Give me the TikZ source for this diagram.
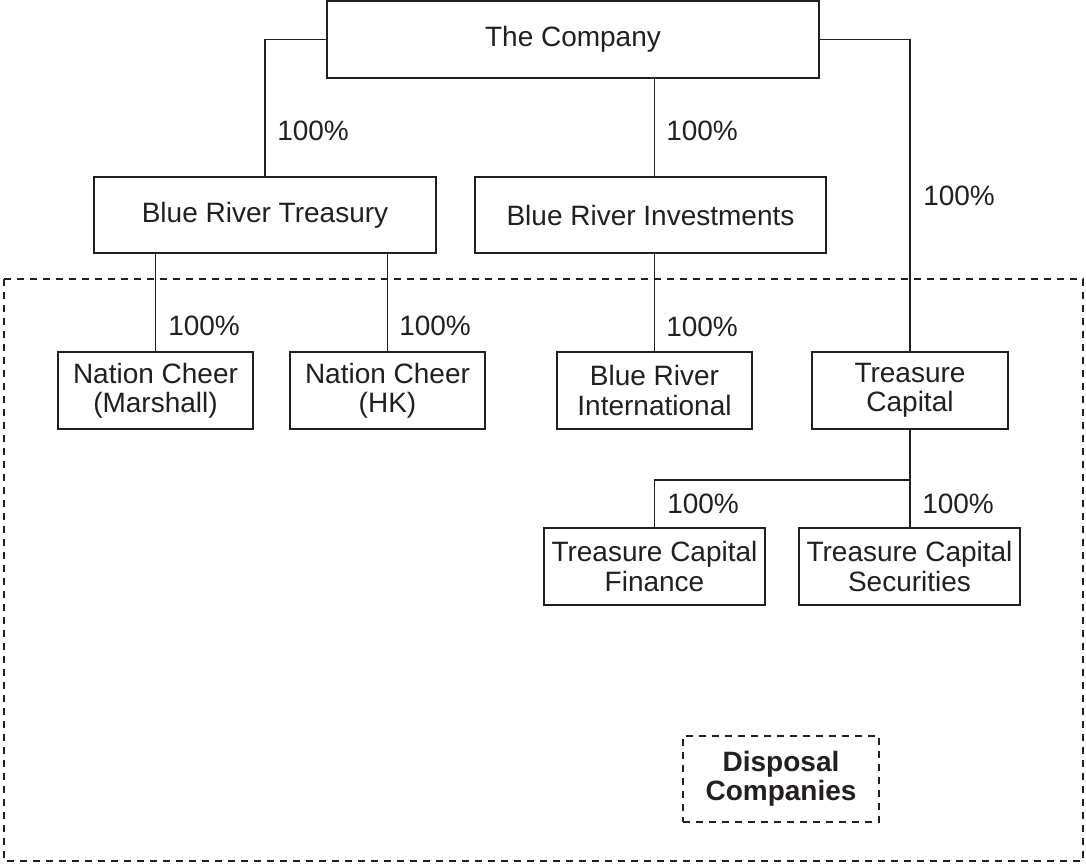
\documentclass[tikz,border=0pt]{standalone}
\usepackage{fontspec}
\setmainfont{Liberation Sans}
\usepackage{xcolor}
\definecolor{ink}{RGB}{35,31,32}

\begin{document}
\begin{tikzpicture}[x=0.75pt,y=0.75pt,yscale=-1,xscale=1,
  entity/.style={draw=ink, line width=1.4pt, fill=white, align=center, inner sep=0pt, text=ink, font=\fontsize{21}{22}\selectfont},
  link/.style={draw=ink, line width=1.4pt},
  pct/.style={anchor=base west, inner sep=0pt, text=ink, font=\fontsize{21}{22}\selectfont},
  group/.style={draw=ink, line width=1pt, dash pattern=on 5.25pt off 4.5pt}]
\useasboundingbox (0,0) rectangle (1086,865);

%Disposal frame
\draw[group] (4,279) rectangle (1083,861);

% Boxes
\node[entity, minimum width=369pt, minimum height=57.75pt] (company) at (573,39.5) {The Company};
\node[entity, minimum width=256.5pt, minimum height=57pt] (brt) at (265,215) {Blue River Treasury};
\node[entity, minimum width=263.25pt, minimum height=57pt] (bri) at (650.5,215) {Blue River Investments};
\node[entity, minimum width=146.25pt, minimum height=57.75pt] (ncm) at (155.5,390.5) {Nation Cheer\\(Marshall)};
\node[entity, minimum width=146.25pt, minimum height=57.75pt] (nchk) at (387.5,390.5) {Nation Cheer\\(HK)};
\node[entity, minimum width=146.25pt, minimum height=57.75pt] (bril) at (654.5,390.5) {Blue River\\International};
\node[entity, minimum width=147pt, minimum height=57.75pt] (tc) at (910,390.5) {Treasure\\Capital};
\node[entity, minimum width=165.75pt, minimum height=57.75pt] (tcf) at (654.5,566.5) {Treasure Capital\\Finance};
\node[entity, minimum width=165.75pt, minimum height=57.75pt] (tcs) at (909.5,566.5) {Treasure Capital\\Securities};
\node[entity, group, minimum width=147pt, minimum height=64.5pt, font=\fontsize{21}{22}\selectfont\bfseries] (disposal) at (781,779) {Disposal\\Companies};

% Connectors
\draw[link] (company.west) -| (brt.north);
\draw[link] (company.south -| bril.north) -- (bri.north -| bril.north);
\draw[link] (company.east) -| (tc.north);
\draw[link] (brt.south -| ncm.north) -- (ncm.north);
\draw[link] (brt.south -| nchk.north) -- (nchk.north);
\draw[link] (bri.south -| bril.north) -- (bril.north);
\draw[link] (tc.south) -- (tc.south |- tcs.north);
\path (tc.south) ++(0,50) coordinate (tcjoin);
\draw[link] (tcjoin) -| (tcf.north);

% Percentages
\node[pct] (pbrt) at (277,140) {100\%};
\node[pct] (pbri) at (666,140) {100\%};
\node[pct] (ptc) at (923,205) {100\%};
\node[pct] (pncm) at (168,335) {100\%};
\node[pct] (pnchk) at (399,335) {100\%};
\node[pct] (pbril) at (666,336) {100\%};
\node[pct] (ptcf) at (667,513) {100\%};
\node[pct] (ptcs) at (922,513) {100\%};

\end{tikzpicture}
\end{document}
